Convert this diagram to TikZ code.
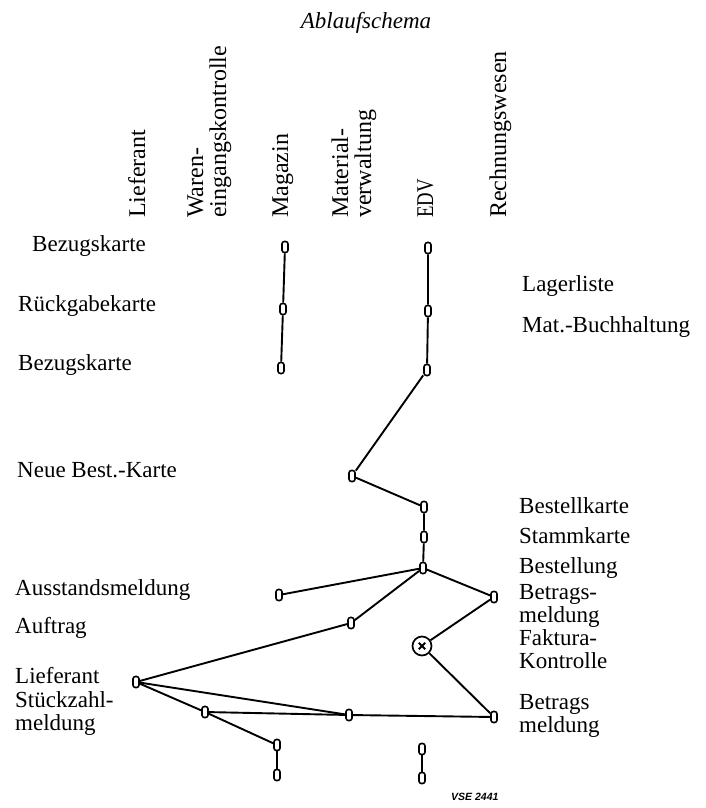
\documentclass[tikz,border=0pt]{standalone}
\usepackage{fontspec}
\setmainfont{Liberation Serif}
\newfontfamily\vsefont{Liberation Sans}
\tikzset{
  mk/.style={draw, line width=1.6pt, rounded corners=2.4pt, minimum width=6pt, minimum height=11pt, inner sep=0pt, fill=white},
  cn/.style={line width=1.9pt},
  lbl/.style={anchor=base west, inner sep=0pt, font=\fontsize{23}{27}\selectfont},
  hdr/.style={anchor=base west, inner sep=0pt, rotate=90, font=\fontsize{24}{28}\selectfont},
}
\begin{document}
\begin{tikzpicture}[x=1pt,y=-1pt]
\useasboundingbox[fill=white] (0,0) rectangle (706,808);

% title
\node[anchor=base, inner sep=0pt, font=\fontsize{23}{27}\selectfont\itshape] (title) at (366,29) {Ablaufschema};

% column headers
\node[hdr] (hLief) at (145,218) {Lieferant};
\node[hdr] (hWar1) at (203,218) {Waren-};
\node[hdr] (hWar2) at (226,218) {eingangskontrolle};
\node[hdr] (hMag) at (288,218) {Magazin};
\node[hdr] (hMat1) at (348,218) {Material-};
\node[hdr] (hMat2) at (371,218) {verwaltung};
\node[hdr] (hEDV) at (433,218) {\scalebox{0.78}[1]{EDV}};
\node[hdr] (hRech) at (506,218) {Rechnungswesen};

% left labels
\node[lbl] (l1) at (32,251) {Bezugskarte};
\node[lbl] (l2) at (18,311) {Rückgabekarte};
\node[lbl] (l3) at (18,370) {Bezugskarte};
\node[lbl] (l4) at (17,477) {Neue Best.-Karte};
\node[lbl] (l5) at (15,595) {Ausstandsmeldung};
\node[lbl] (l6) at (15,633) {Auftrag};
\node[lbl] (l7) at (15,683) {Lieferant};
\node[lbl] (l8) at (15,707) {Stückzahl-};
\node[lbl] (l9) at (15,730) {meldung};

% right labels
\node[lbl] (r1) at (522,291) {Lagerliste};
\node[lbl] (r2) at (522,332) {Mat.-Buchhaltung};
\node[lbl] (r3) at (519,513) {Bestellkarte};
\node[lbl] (r4) at (519,543) {Stammkarte};
\node[lbl] (r5) at (519,573) {Bestellung};
\node[lbl] (r6) at (519,599) {Betrags-};
\node[lbl] (r7) at (519,622) {meldung};
\node[lbl] (r8) at (519,645) {Faktura-};
\node[lbl] (r9) at (519,668) {Kontrolle};
\node[lbl] (r10) at (519,709) {Betrags};
\node[lbl] (r11) at (519,732) {meldung};

% markers
\node[mk] (m1) at (285,247) {};
\node[mk] (m2) at (283,309) {};
\node[mk] (m3) at (281,368) {};
\node[mk] (e1) at (428,248) {};
\node[mk] (e2) at (428,311) {};
\node[mk] (e3) at (427,370) {};
\node[mk] (nb) at (352,476) {};
\node[mk] (bk) at (424,507) {};
\node[mk] (sk) at (424,537) {};
\node[mk] (bs) at (423,568) {};
\node[mk] (au) at (279,595) {};
\node[mk] (bm) at (494,597) {};
\node[mk] (af) at (351,623) {};
\node[draw, circle, line width=1.7pt, minimum size=19pt, inner sep=0pt, fill=white] (X) at (422,646) {};
\node[mk] (lf) at (136,682) {};
\node[mk] (s1) at (205,712) {};
\node[mk] (s2) at (349,715) {};
\node[mk] (bt) at (494,717) {};
\node[mk] (b1) at (277,745) {};
\node[mk] (b2) at (277,775) {};
\node[mk] (e4) at (422,749) {};
\node[mk] (e5) at (422,778) {};

% cross in circle
\draw[line width=1.8pt] ([shift={(-3.2pt,-3.2pt)}]X.center) -- ([shift={(3.2pt,3.2pt)}]X.center);
\draw[line width=1.8pt] ([shift={(-3.2pt,3.2pt)}]X.center) -- ([shift={(3.2pt,-3.2pt)}]X.center);

% connectors
\draw[cn] (m1) -- (m2) -- (m3);
\draw[cn] (e1) -- (e2) -- (e3) -- (nb) -- (bk) -- (sk) -- (bs);
\draw[cn] (bs) -- (au);
\draw[cn] (bs) -- (af);
\draw[cn] (bs) -- (bm);
\draw[cn] (bm) -- (X);
\draw[cn] (X) -- (bt);
\draw[cn] (af) -- (lf);
\draw[cn] (lf) -- (s2);
\draw[cn] (lf) -- (s1);
\draw[cn] (s1) -- (s2) -- (bt);
\draw[cn] (s1) -- (b1);
\draw[cn] (b1) -- (b2);
\draw[cn] (e4) -- (e5);

% figure number
\node[anchor=base west, inner sep=0pt, font=\vsefont\fontsize{10.5}{12}\selectfont\bfseries\itshape] (vse) at (451,800) {VSE 2441};
\end{tikzpicture}
\end{document}
